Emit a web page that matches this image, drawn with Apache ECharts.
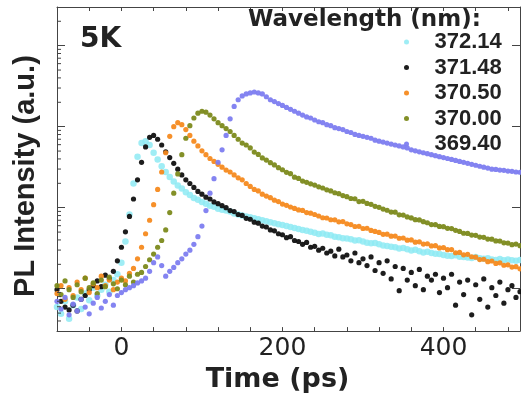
<!DOCTYPE html>
<html>
<head>
<meta charset="utf-8">
<script src="https://cdn.jsdelivr.net/npm/echarts@6/dist/echarts.min.js"></script>
<style>
html,body{margin:0;padding:0;background:#fff;}
#chart{width:521px;height:398px;}
</style>
</head>
<body>
<div id="chart"></div>
<script>
// ---- data ----
const times = [
  -80,-75,-70,-65,-60,-55,-50,-45,-40,-35,-30,-25,-20,-15,-10,-5,
  0,5,10,15,20,25,30,35,40,45,50,55,60,65,70,75,
  80,85,90,95,100,105,110,115,120,125,130,135,140,145,150,155,
  160,165,170,175,180,185,190,195,200,205,210,215,220,225,230,235,
  240,245,250,255,260,265,270,275,280,285,290,295,300,305,310,315,
  320,325,330,335,340,345,350,355,360,365,370,375,380,385,390,395,
  400,405,410,415,420,425,430,435,440,445,450,455,460,465,470,475,
  480,485,490,495
];
const seriesNames = ['372.14','371.48','370.50','370.00','369.40'];
const pl37214 = [
  5.94,4.90,7.00,4.27,6.27,7.81,5.62,8.72,7.20,10.3,8.25,9.73,11.2,9.21,12.8,15.1,
  21.0,38.3,82.5,199,427,627,663,594,477,394,325,276,240,210,188,173,
  155,143,132,125,118,112,106,103,97.3,94.7,92.1,89.6,84.8,82.5,80.3,78.1,
  76.0,74.0,72.0,70.0,68.1,66.3,64.5,62.7,61.1,59.4,57.8,56.2,54.7,53.2,51.8,50.4,
  49.0,47.3,48.1,46.4,45.6,43.9,43.2,42.0,41.6,40.9,39.4,39.8,38.3,37.0,36.3,36.8,
  35.3,34.1,33.6,33.0,32.5,31.4,31.9,30.8,29.7,30.2,29.1,28.0,28.6,27.6,27.1,26.8,
  26.1,25.6,25.4,25.9,24.9,24.7,24.3,24.0,24.6,23.7,23.4,23.8,23.0,22.7,23.2,22.5,
  22.9,22.4,22.1,22.6
];
const pl37148 = [
  9.73,7.00,5.94,5.47,6.27,5.32,7.40,8.25,9.73,10.9,12.5,10.6,14.7,13.2,16.4,22.1,
  32.5,50.4,78.1,128,221,363,562,740,781,700,594,490,416,353,299,254,
  221,199,178,159,147,135,128,118,112,106,100,92.1,89.6,82.5,80.3,74.0,
  72.0,66.3,64.5,59.4,57.8,53.2,51.8,47.7,46.4,42.7,43.9,39.4,38.3,35.3,37.3,32.5,
  33.4,29.9,31.6,27.6,29.1,25.4,30.8,24.7,26.1,22.1,27.6,21.0,23.4,19.3,24.7,16.8,
  21.0,15.5,22.1,13.2,18.8,9.47,17.8,12.8,15.9,10.9,17.3,9.73,14.3,12.8,15.1,8.96,
  13.5,10.3,15.1,6.27,12.1,8.48,12.8,4.77,11.2,7.40,13.2,5.94,10.3,8.25,12.1,6.63,
  9.73,10.9,7.81,9.21
];
const pl37050 = [
  8.72,10.9,7.40,10.3,8.25,12.1,9.73,13.5,8.96,11.5,10.3,14.3,10.9,12.8,9.73,12.1,
  13.5,12.5,15.5,17.8,23.4,32.5,47.7,70.0,109,168,276,477,760,1000,1120,1060,
  921,781,663,578,504,451,405,373,343,316,291,276,254,234,221,199,
  183,168,161,147,139,133,124,119,111,107,102,98.0,93.8,92.5,87.2,85.6,
  82.5,79.0,75.2,74.6,71.0,70.8,67.0,67.4,63.2,62.0,58.6,58.9,55.4,55.8,52.4,51.0,
  49.6,47.0,47.2,44.5,44.6,42.0,42.3,39.8,40.0,37.6,37.9,35.6,35.9,33.8,34.0,31.9,
  32.2,30.3,30.4,27.8,28.1,26.2,26.6,24.8,24.5,22.9,23.1,21.6,22.0,20.5,20.9,19.5,
  19.7,18.5,18.7,17.6
];
const pl37000 = [
  10.9,8.48,12.5,9.73,7.81,11.2,9.21,13.5,10.3,11.8,8.72,12.8,10.6,13.9,11.5,10.0,
  12.8,11.2,14.3,12.1,15.1,15.9,18.8,22.8,26.8,32.5,39.4,53.2,87.2,151,261,451,
  720,1030,1280,1470,1550,1510,1390,1250,1120,1030,947,872,781,700,627,594,
  547,486,455,412,387,360,337,312,294,273,263,238,230,213,206,197,
  190,181,175,166,161,153,149,141,137,130,129,119,120,113,110,104,
  101,96.2,93.0,88.4,88.0,81.6,81.2,77.0,74.8,71.2,70.6,67.3,65.2,62.0,61.7,58.8,
  58.4,55.6,55.3,52.6,50.9,48.4,48.2,45.9,45.6,43.4,43.1,41.0,40.9,38.9,38.7,36.9,
  36.6,35.0,35.6,34.0
];
const pl36940 = [
  7.00,5.62,7.81,4.77,6.45,5.32,7.40,5.94,4.90,6.63,7.81,5.78,7.00,8.48,6.27,8.25,
  8.96,9.73,10.3,10.9,11.8,12.5,13.5,16.4,21.0,24.7,19.3,14.3,16.4,18.3,21.0,23.4,
  26.8,29.9,35.3,43.9,59.4,92.1,151,228,363,518,781,1250,1780,2150,2400,2540,
  2610,2680,2610,2540,2340,2150,2040,1930,1830,1730,1640,1550,1470,1390,1320,1280,
  1210,1150,1120,1060,1030,973,947,921,872,848,803,781,760,740,720,681,
  663,645,627,610,594,578,562,547,518,504,490,477,464,451,439,427,
  416,405,394,383,373,363,353,343,334,325,316,308,299,297,291,289,
  283,281,276,274
];
const seriesValues = [pl37214, pl37148, pl37050, pl37000, pl36940];
const xTickLabels = ['0','200','400'];
const yMinorTicks = [4,5,6,7,8,9,20,30,40,50,60,70,80,90,200,300,400,500,600,700,800,900,
  2000,3000,4000,5000,6000,7000,8000,9000,20000];

// ---- style ----
const colors = ['#8eeaf3','#111111','#f58a1f','#7c8a1c','#7d7df0'];
const xMin = -80, xMax = 495, yMin = 3, yMax = 30000;
const axisColor = '#444';

const chart = echarts.init(document.getElementById('chart'), null, {renderer:'canvas'});

const scatterSeries = seriesNames.map((name, k) => ({
  name: name,
  type: 'scatter',
  xAxisIndex: 0, yAxisIndex: 0,
  symbol: 'circle',
  symbolSize: k === 0 ? 6.5 : 5.2,
  itemStyle: {color: colors[k], opacity: k === 0 ? 0.85 : 0.95},
  data: times.map((t, i) => [t, seriesValues[k][i]]),
  z: 2 + k
}));

const minorTickSeries = {
  name: 'minorTicks',
  type: 'custom',
  xAxisIndex: 0, yAxisIndex: 0,
  silent: true,
  clip: false,
  data: yMinorTicks.map(v => [xMin, v]),
  renderItem: (params, api) => {
    const p = api.coord([api.value(0), api.value(1)]);
    return {type:'line', shape:{x1:p[0], y1:p[1], x2:p[0]+4, y2:p[1]},
            style:{stroke: axisColor, lineWidth: 1}};
  },
  z: 10
};

const option = {
  animation: false,
  backgroundColor: '#fff',
  grid: {left: 57, right: 1, top: 7, bottom: 55, containLabel: false},
  legend: {
    data: seriesNames,
    orient: 'vertical',
    left: 404, top: 31,
    padding: 0,
    itemGap: 3.5,
    itemWidth: 46, itemHeight: 5,
    icon: 'circle',
    textStyle: {fontFamily: 'Liberation Sans', fontWeight: 'bold', fontSize: 22, color: '#222', lineHeight: 22}
  },
  xAxis: [{
    type: 'value', position: 'bottom',
    min: xMin, max: xMax, interval: 40,
    axisLine: {show: true, onZero: false, lineStyle: {color: axisColor, width: 1}},
    axisTick: {show: true, inside: true, length: 4, lineStyle: {color: axisColor}},
    splitLine: {show: false},
    axisLabel: {
      show: true, margin: 5, showMinLabel: false, showMaxLabel: false,
      fontFamily: 'DejaVu Sans', fontSize: 25, color: '#222',
      formatter: v => (xTickLabels.indexOf(String(v)) >= 0 ? String(v) : '')
    },
    name: 'Time (ps)', nameLocation: 'middle', nameGap: 22,
    nameTextStyle: {fontFamily: 'DejaVu Sans', fontWeight: 'bold', fontSize: 27, color: '#222', padding: [0, 22, 0, 0]}
  }, {
    type: 'value', position: 'top',
    min: xMin, max: xMax, interval: 40,
    axisLine: {show: true, onZero: false, lineStyle: {color: axisColor, width: 1}},
    axisTick: {show: true, inside: true, length: 4, lineStyle: {color: axisColor}},
    splitLine: {show: false},
    axisLabel: {show: false}
  }],
  yAxis: [{
    type: 'log', logBase: 10, position: 'left',
    min: yMin, max: yMax,
    axisLine: {show: true, onZero: false, lineStyle: {color: axisColor, width: 1}},
    axisTick: {show: true, inside: true, length: 8, lineStyle: {color: axisColor}},
    splitLine: {show: false},
    axisLabel: {show: false},
    name: 'PL Intensity (a.u.)', nameLocation: 'middle', nameGap: 17, nameRotate: 90,
    nameTextStyle: {fontFamily: 'Liberation Sans', fontWeight: 'bold', fontSize: 29, color: '#222', padding: [0, 14, 0, 0]}
  }, {
    type: 'log', logBase: 10, position: 'right',
    min: yMin, max: yMax,
    axisLine: {show: true, onZero: false, lineStyle: {color: axisColor, width: 1}},
    axisTick: {show: true, inside: true, length: 8, lineStyle: {color: axisColor}},
    splitLine: {show: false},
    axisLabel: {show: false}
  }],
  graphic: [{
    type: 'text', left: 80, top: 26, z: 20,
    style: {text: '5K', fontFamily: 'DejaVu Sans', fontWeight: 'bold', fontSize: 28, fill: '#222'}
  }, {
    type: 'text', left: 248, top: 9, z: 20,
    style: {text: 'Wavelength (nm):', fontFamily: 'DejaVu Sans', fontWeight: 'bold', fontSize: 23, fill: '#222'}
  }],
  series: scatterSeries.concat([minorTickSeries])
};
chart.setOption(option);
</script>
</body>
</html>
